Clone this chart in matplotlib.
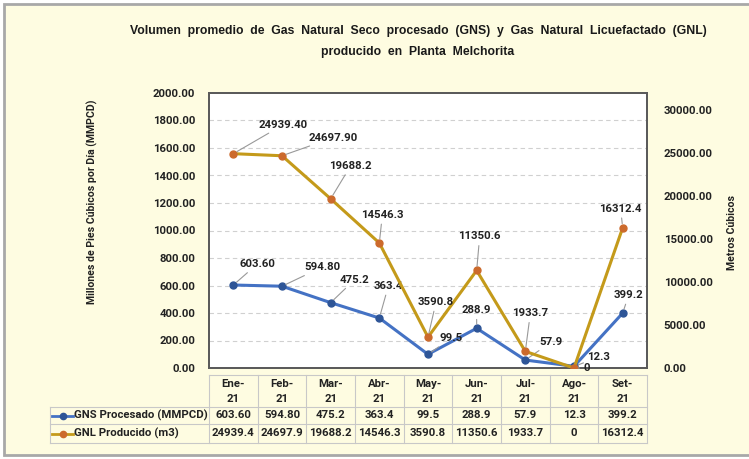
import matplotlib
matplotlib.use("Agg")
import matplotlib.pyplot as plt
from matplotlib.transforms import blended_transform_factory
from matplotlib.patches import Rectangle
from matplotlib.lines import Line2D

# ---------------- data ----------------
months = ["Ene-\n21", "Feb-\n21", "Mar-\n21", "Abr-\n21", "May-\n21",
          "Jun-\n21", "Jul-\n21", "Ago-\n21", "Set-\n21"]
gns = [603.60, 594.80, 475.2, 363.4, 99.5, 288.9, 57.9, 12.3, 399.2]
gnl = [24939.4, 24697.9, 19688.2, 14546.3, 3590.8, 11350.6, 1933.7, 0, 16312.4]
gns_labels = ["603.60", "594.80", "475.2", "363.4", "99.5", "288.9", "57.9", "12.3", "399.2"]
gnl_labels = ["24939.40", "24697.90", "19688.2", "14546.3", "3590.8", "11350.6", "1933.7", "0", "16312.4"]
gns_table = ["603.60", "594.80", "475.2", "363.4", "99.5", "288.9", "57.9", "12.3", "399.2"]
gnl_table = ["24939.4", "24697.9", "19688.2", "14546.3", "3590.8", "11350.6", "1933.7", "0", "16312.4"]
series_names = ["GNS Procesado (MMPCD)", "GNL Producido (m3)"]
left_ticks = [0, 200, 400, 600, 800, 1000, 1200, 1400, 1600, 1800, 2000]
right_ticks = [0, 5000, 10000, 15000, 20000, 25000, 30000]

# label offsets (pixels) - styling
gns_off = [(24, 21), (40, 19), (24, 23), (9, 32), (23, 16), (0, 18), (26, 18), (25, 9), (6, 18)]
gnl_off = [(50, 29), (51, 18), (20, 33), (3, 28), (8, 35), (3, 34), (5, 38), (13, 0), (-2, 19)]

FONT = ["Roboto", "DejaVu Sans"]
TITLE_FONT = ["Liberation Sans", "DejaVu Sans"]
BG = "#FEFCE1"
C_GNS = "#4472C4"
C_GNS_M = "#2E5597"
C_GNL = "#C49A1A"
C_GNL_M = "#CC6A2C"
GRID = "#D0D0D0"
TBL = "#C8C8C8"
TXT = "#222222"
FS = 8.2

W, H = 749, 459
fig = plt.figure(figsize=(W / 100, H / 100), dpi=100)
fig.patch.set_facecolor("white")

def px(x, y):
    return x / W, 1 - y / H

# outer frame
fx0, fy0 = px(4, 455)
fig.patches.append(Rectangle((fx0, fy0), 1.2, 1 - 4 / H - fy0, transform=fig.transFigure,
                             facecolor=BG, edgecolor="#A8A8A8", lw=2, zorder=-5))

L, R, T, B = 209, 647, 93, 368
ax = fig.add_axes([L / W, 1 - B / H, (R - L) / W, (B - T) / H])
ax.set_facecolor("white")
ax2 = ax.twinx()

x = list(range(len(months)))

ax.set_xlim(-0.5, len(months) - 0.5)
ax.set_ylim(0, 2000)
ax2.set_ylim(0, 32000)
ax.set_yticks(left_ticks)
ax.set_yticklabels([f"{v:.2f}" for v in left_ticks])
ax2.set_yticks(right_ticks)
ax2.set_yticklabels([f"{v:.2f}" for v in right_ticks])
ax.set_xticks([])
for a in (ax, ax2):
    a.tick_params(axis="y", length=0, labelsize=FS)
    for lab in a.get_yticklabels():
        lab.set_fontfamily(FONT)
        lab.set_fontweight("bold")
        lab.set_color(TXT)
ax.tick_params(axis="y", pad=10)
ax2.tick_params(axis="y", pad=12)

for v in left_ticks[1:-1]:
    ax.axhline(v, color=GRID, lw=0.8, ls=(0, (4, 3)), zorder=0)

for a in (ax, ax2):
    for s in a.spines.values():
        s.set_color("#5A5A5A")
        s.set_linewidth(1.3)

ax.plot(x, gns, color=C_GNS, lw=2.2, marker="o", ms=5, mfc=C_GNS_M, mec=C_GNS_M, zorder=3)
ax2.plot(x, gnl, color=C_GNL, lw=2.2, marker="o", ms=5, mfc=C_GNL_M, mec=C_GNL_M, zorder=3)

lblkw = dict(textcoords="offset pixels", ha="center", va="center", fontsize=FS,
             fontweight="bold", color=TXT, family=FONT,
             arrowprops=dict(arrowstyle="-", color="#999999", lw=0.8, shrinkA=1, shrinkB=3))
for i in x:
    ax.annotate(gns_labels[i], xy=(i, gns[i]), xytext=gns_off[i], **lblkw)
    ax2.annotate(gnl_labels[i], xy=(i, gnl[i]), xytext=gnl_off[i], **lblkw)

ax.set_ylabel("Millones de Pies Cúbicos por Día (MMPCD)", fontsize=7.6, fontweight="bold",
              family=FONT, color=TXT)
ax.yaxis.set_label_coords((98 - L) / (R - L), (B - 202) / (B - T))
ax2.set_ylabel("Metros Cúbicos", fontsize=7.6, fontweight="bold", family=FONT, color=TXT)
ax2.yaxis.set_label_coords((727 - L) / (R - L), (B - 232) / (B - T))

# title
fig.text(px(418, 31)[0], px(418, 31)[1],
         "Volumen  promedio  de  Gas  Natural  Seco  procesado  (GNS)  y  Gas  Natural  Licuefactado  (GNL)",
         ha="center", va="center", fontsize=8.8, fontweight="bold", family=TITLE_FONT, color="#1a1a1a")
fig.text(px(418, 52)[0], px(418, 52)[1], "producido  en  Planta  Melchorita",
         ha="center", va="center", fontsize=8.8, fontweight="bold", family=TITLE_FONT, color="#1a1a1a")

# ---------------- data table ----------------
tr = blended_transform_factory(ax.transData, ax.transAxes)
def ya(yimg):
    return (B - yimg) / (B - T)

t_top, h_bot, r1_bot, t_bot = 375, 407, 424, 443
lab_left = (50 - L) / (R - L) * len(months) - 0.5  # in data x units
lw_t = 0.8
def hline(x0, x1, yimg):
    ax.add_line(Line2D([x0, x1], [ya(yimg)] * 2, transform=tr, color=TBL, lw=lw_t, clip_on=False))
def vline(xv, y0, y1):
    ax.add_line(Line2D([xv, xv], [ya(y0), ya(y1)], transform=tr, color=TBL, lw=lw_t, clip_on=False))

hline(-0.5, len(months) - 0.5, t_top)
for yv in (h_bot, r1_bot, t_bot):
    hline(lab_left, len(months) - 0.5, yv)
for i in range(len(months) + 1):
    vline(i - 0.5, t_top, t_bot)
vline(lab_left, h_bot, t_bot)

tkw = dict(transform=tr, ha="center", va="center", fontsize=FS, fontweight="bold",
           family=FONT, color=TXT, clip_on=False)
for i in x:
    top, bot = months[i].split("\n")
    ax.text(i, ya(384), top, **tkw)
    ax.text(i, ya(399), bot, **tkw)
    ax.text(i, ya(415.5), gns_table[i], **tkw)
    ax.text(i, ya(433.5), gnl_table[i], **tkw)

def xd(ximg):
    return (ximg - L) / (R - L) * len(months) - 0.5

for yimg, name, lc, mc in ((415.5, series_names[0], C_GNS, C_GNS_M),
                           (433.5, series_names[1], C_GNL, C_GNL_M)):
    ax.add_line(Line2D([xd(52), xd(73)], [ya(yimg)] * 2, transform=tr, color=lc, lw=2,
                       clip_on=False))
    ax.add_line(Line2D([xd(63)], [ya(yimg)], transform=tr, marker="o", ms=4.5, mfc=mc, mec=mc,
                       clip_on=False))
    ax.text(xd(74), ya(yimg), name, transform=tr, ha="left", va="center", fontsize=FS,
            fontweight="bold", family=FONT, color=TXT, clip_on=False)

fig.savefig("out.png", dpi=100, facecolor=fig.get_facecolor())
